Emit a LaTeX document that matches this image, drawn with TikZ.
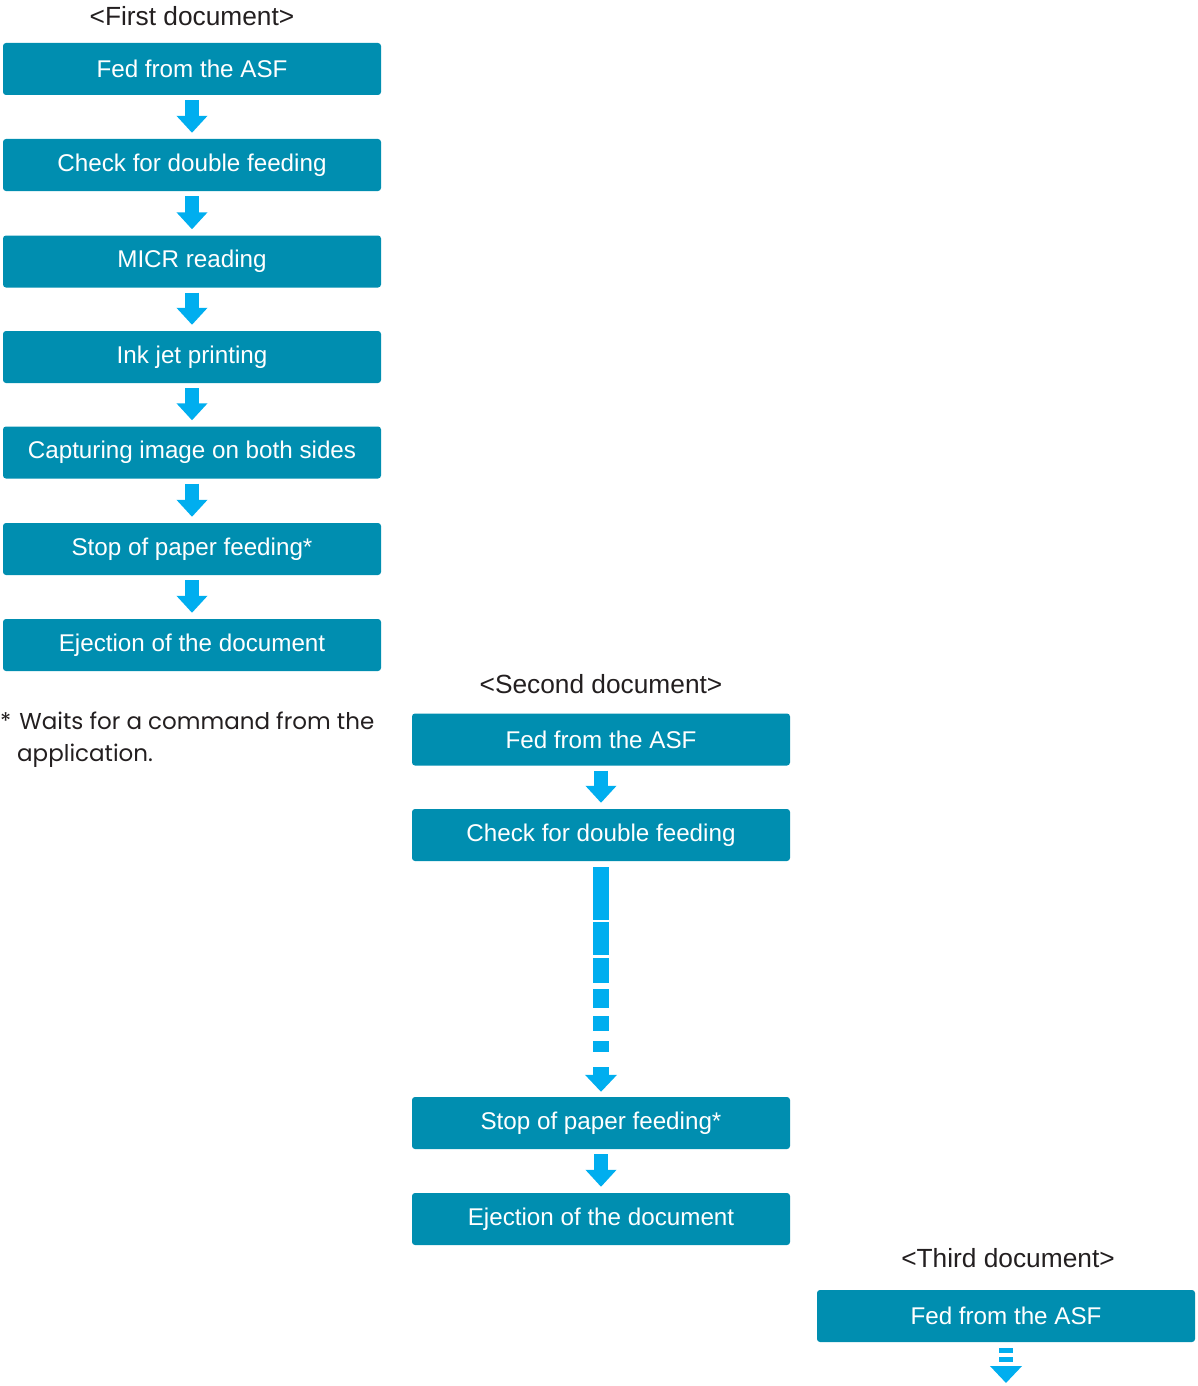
\documentclass[tikz,border=0pt]{standalone}
\usepackage{fontspec}
\setmainfont{Liberation Sans}
\newfontfamily\notefont{Poppins}
\usetikzlibrary{arrows.meta,calc}
\definecolor{boxblue}{HTML}{008EB0}
\definecolor{arrowblue}{HTML}{00AEEF}
\definecolor{txtgray}{HTML}{231F20}
\begin{document}
\begin{tikzpicture}[x=1pt,y=-1pt,
  stepbox/.style={rectangle, rounded corners=3pt, fill=boxblue, text=white,
    minimum width=378pt, minimum height=52pt, inner sep=0pt,
    font=\fontsize{24.2}{28}\selectfont},
  header/.style={text=txtgray, inner sep=0pt, font=\fontsize{26.3}{30}\selectfont},
  flow/.style={draw=arrowblue, line width=14pt,
    -{Triangle[width=30pt,length=17pt,fill=arrowblue]}},
]
\useasboundingbox (0,0) rectangle (1197,1386);

% first document
\node[header] (h1) at (192,16) {<First document>};
\node[stepbox] (a1) at (192,69)    {Fed from the ASF};
\node[stepbox] (a2) at (192,165)   {Check for double feeding};
\node[stepbox] (a3) at (192,261.5) {MICR reading};
\node[stepbox] (a4) at (192,357)   {Ink jet printing};
\node[stepbox] (a5) at (192,452.5) {Capturing image on both sides};
\node[stepbox] (a6) at (192,549)   {Stop of paper feeding*};
\node[stepbox] (a7) at (192,645)   {Ejection of the document};
\foreach \u/\v in {a1/a2,a2/a3,a3/a4,a4/a5,a5/a6,a6/a7}
  \draw[flow] ($(\u.south)+(0,5)$) -- ($(\v.north)+(0,-6)$);

\node[anchor=north west, inner sep=0pt, text=txtgray, align=left,
  font=\notefont\fontsize{23}{32}\selectfont] (note) at (0,712)
  {*\hspace{8pt}Waits for a command from the\\\hspace{17pt}application.};

% second document
\node[header] (h2) at (601,684) {<Second document>};
\node[stepbox] (b1) at (601,739.5) {Fed from the ASF};
\node[stepbox] (b2) at (601,835)   {Check for double feeding};
\node[stepbox] (b3) at (601,1123)  {Stop of paper feeding*};
\node[stepbox] (b4) at (601,1219)  {Ejection of the document};
\draw[flow] ($(b1.south)+(0,5)$) -- ($(b2.north)+(0,-6)$);
\draw[draw=arrowblue, line width=16pt,
  dash pattern=on 53pt off 2pt on 33pt off 3pt on 25pt off 6pt on 19pt off 8pt on 15pt off 10pt on 11pt off 15pt on 8pt off 20pt,
  -{Triangle[width=31pt,length=17pt,fill=arrowblue]}]
  ($(b2.south)+(0,6)$) -- ($(b3.north)+(0,-5)$);
\draw[flow] ($(b3.south)+(0,5)$) -- ($(b4.north)+(0,-6)$);

% third document
\node[header] (h3) at (1008,1258) {<Third document>};
\node[stepbox] (c1) at (1006,1316) {Fed from the ASF};
\coordinate (cend) at (1006,1383);
\draw[draw=arrowblue, line width=14pt, dash pattern=on 5pt off 4pt on 5pt off 10pt,
  -{Triangle[width=31pt,length=17pt,fill=arrowblue]}]
  ($(c1.south)+(0,6)$) -- (cend);
\end{tikzpicture}
\end{document}
